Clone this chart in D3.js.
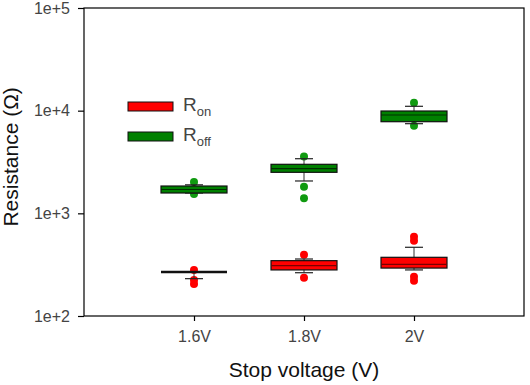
<!DOCTYPE html>
<html>
<head>
<meta charset="utf-8">
<script src="https://cdn.jsdelivr.net/npm/d3@7"></script>
<style>
  body { margin: 0; background: #fff; }
  text { font-family: "Liberation Sans", Arial, sans-serif; }
</style>
</head>
<body>
<div id="chart"></div>
<script>

// categories and tick labels
var categories = ["1.6V", "1.8V", "2V"];
var yTicks = [100, 1000, 10000, 100000];
var yTickLabels = ["1e+2", "1e+3", "1e+4", "1e+5"];

// R_on box statistics (Ohm)
var ronQ1 = [268, 281, 293];
var ronMed = [268, 309, 319];
var ronQ3 = [268, 346, 373];
var ronLo = [231, 264, 281];
var ronHi = [268, 359, 467];
var ronOut = [[281, 224, 205], [395, 236], [592, 541, 241, 221]];

// R_off box statistics (Ohm)
var roffQ1 = [1578, 2509, 7808];
var roffMed = [1706, 2722, 9077];
var roffQ3 = [1845, 3003, 9924];
var roffLo = [1578, 2066, 7466];
var roffHi = [1895, 3404, 11030];
var roffOut = [[2020, 1542], [3583, 1815, 1400], [11953, 7138]];

var svgWidth = 530;
var svgHeight = 385;

var margin = {
  top: 8,
  right: 6,
  bottom: 69,
  left: 84
};

var width = svgWidth - margin.left - margin.right;
var height = svgHeight - margin.top - margin.bottom;

var svg = d3.select("#chart")
  .append("svg")
  .attr("width", svgWidth)
  .attr("height", svgHeight);

var chartGroup = svg.append("g")
  .attr("transform", `translate(${margin.left}, ${margin.top})`);

// scales
var xScale = d3.scaleLinear()
  .domain([0, categories.length + 1])
  .range([0, width]);

var yScale = d3.scaleLog()
  .domain([100, 100000])
  .range([height, 0]);

// frame
chartGroup.append("rect")
  .attr("x", 0)
  .attr("y", 0)
  .attr("width", width)
  .attr("height", height)
  .attr("fill", "none")
  .attr("stroke", "#000")
  .attr("stroke-width", 1.2);

// axes
var leftAxis = d3.axisLeft(yScale)
  .tickValues(yTicks)
  .tickFormat((d, i) => yTickLabels[i])
  .tickSize(6)
  .tickPadding(8);

var bottomAxis = d3.axisBottom(xScale)
  .tickValues(categories.map((c, i) => i + 1))
  .tickFormat((d, i) => categories[i])
  .tickSize(5)
  .tickPadding(10);

var yAxis = chartGroup.append("g").call(leftAxis);
var xAxis = chartGroup.append("g")
  .attr("transform", `translate(0, ${height})`)
  .call(bottomAxis);

[xAxis, yAxis].forEach(ax => {
  ax.select(".domain").remove();
  ax.selectAll("line").attr("stroke", "#000").attr("stroke-width", 1.2);
  ax.selectAll("text")
    .attr("font-size", "16px")
    .attr("fill", "#444");
});

// axis titles
chartGroup.append("text")
  .attr("x", xScale(2))
  .attr("y", height + 61)
  .attr("text-anchor", "middle")
  .attr("font-size", "21px")
  .attr("fill", "#111")
  .text("Stop voltage (V)");

chartGroup.append("text")
  .attr("transform", `translate(-66, ${yScale(Math.pow(10, 3.55))}) rotate(-90)`)
  .attr("text-anchor", "middle")
  .attr("font-size", "21px")
  .attr("fill", "#111")
  .text("Resistance (Ω)");

var boxW = 66;
var capW = 18;

function drawSeries(q1, med, q3, lo, hi, outs, fill, dotFill, lineCol) {
  var g = chartGroup.append("g");

  // outlier dots (underneath)
  outs.forEach((arr, i) => {
    g.selectAll(null)
      .data(arr)
      .enter()
      .append("circle")
      .attr("cx", xScale(i + 1))
      .attr("cy", d => yScale(d))
      .attr("r", 4)
      .attr("fill", dotFill);
  });

  categories.forEach((c, i) => {
    var cx = xScale(i + 1);
    // whiskers
    g.append("line")
      .attr("x1", cx).attr("x2", cx)
      .attr("y1", yScale(hi[i])).attr("y2", yScale(lo[i]))
      .attr("stroke", "#333");
    [hi[i], lo[i]].forEach(v => {
      g.append("line")
        .attr("x1", cx - capW / 2).attr("x2", cx + capW / 2)
        .attr("y1", yScale(v)).attr("y2", yScale(v))
        .attr("stroke", "#222")
        .attr("stroke-width", 1.2);
    });
    var collapsed = q1[i] === q3[i];
    // box
    if (!collapsed) {
      g.append("rect")
        .attr("x", cx - boxW / 2)
        .attr("y", yScale(q3[i]))
        .attr("width", boxW)
        .attr("height", yScale(q1[i]) - yScale(q3[i]))
        .attr("fill", fill)
        .attr("stroke", "#111")
        .attr("stroke-width", 1.2);
    }
    // median (a collapsed box shows as a single dark line)
    g.append("line")
      .attr("x1", cx - boxW / 2).attr("x2", cx + boxW / 2)
      .attr("y1", yScale(med[i])).attr("y2", yScale(med[i]))
      .attr("stroke", collapsed ? "#111" : lineCol)
      .attr("stroke-width", collapsed ? 2.4 : 1.2);
  });
}

drawSeries(ronQ1, ronMed, ronQ3, ronLo, ronHi, ronOut, "#ff0000", "#ff0000", "#7a0000");
drawSeries(roffQ1, roffMed, roffQ3, roffLo, roffHi, roffOut, "#008000", "#109a10", "#003000");

// legend
var legend = [
  { name: "R", sub: "on", fill: "#ff0000", y: 94 },
  { name: "R", sub: "off", fill: "#008000", y: 124 }
];

legend.forEach(l => {
  chartGroup.append("rect")
    .attr("x", 44)
    .attr("y", l.y)
    .attr("width", 45)
    .attr("height", 9)
    .attr("fill", l.fill)
    .attr("stroke", "#111")
    .attr("stroke-width", 1);
  var t = chartGroup.append("text")
    .attr("x", 99)
    .attr("y", l.y + 9)
    .attr("font-size", "19px")
    .attr("fill", "#444");
  t.append("tspan").text(l.name);
  t.append("tspan")
    .attr("dy", 5)
    .attr("font-size", "13px")
    .text(l.sub);
});

</script>
</body>
</html>
